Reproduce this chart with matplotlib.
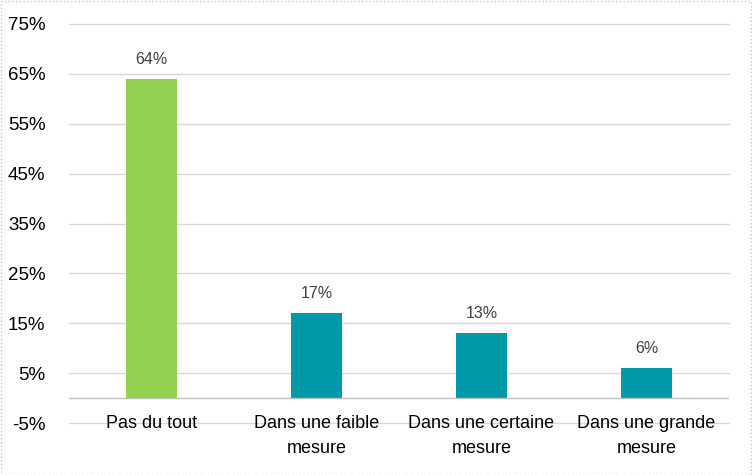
import matplotlib.pyplot as plt
import numpy as np

categories = ["Pas du tout", "Dans une faible\nmesure", "Dans une certaine\nmesure", "Dans une grande\nmesure"]
values = [64, 17, 13, 6]
colors = ["#92D050", "#0099A8", "#0099A8", "#0099A8"]
yticks = [-5, 5, 15, 25, 35, 45, 55, 65, 75]

plt.rcParams['font.family'] = ['Liberation Sans', 'DejaVu Sans']

fig = plt.figure(figsize=(7.52, 4.75), dpi=100)
ax = fig.add_axes([69 / 752, 52 / 475, 660 / 752, 399 / 475])

x = np.arange(len(categories))
ax.bar(x, values, width=0.315, color=colors, zorder=3)

# value labels above bars
for xi, v in zip(x, values):
    ax.text(xi, v + 2.4, f"{v}%", ha='center', va='bottom', fontsize=11.5, color='#404040')

# gridlines
for t in yticks:
    ax.axhline(t, color='#d9d9d9', lw=1, zorder=1, clip_on=False)
ax.axhline(0, color='#bfbfbf', lw=1, zorder=4)

ax.set_xlim(-0.5, 3.5)
ax.set_ylim(-5, 75)
ax.set_yticks(yticks)
ax.set_yticklabels([f"{t}%" for t in yticks], fontsize=13.5, color='#000000')
ax.tick_params(axis='y', length=0, pad=17)
ax.set_xticks([])

# category labels sit on the -5% line, like Excel does it
for xi, c in zip(x, categories):
    ax.text(xi, -3.4, c, ha='center', va='top', fontsize=13, color='#000000',
            linespacing=1.65)

for s in ax.spines.values():
    s.set_visible(False)

# light frame around the whole picture
fig.patches.append(plt.Rectangle((0.001, 0.001), 0.998, 0.997, transform=fig.transFigure,
                                 fill=False, edgecolor='#c8c8c8', lw=1, ls=':'))

fig.savefig("out.png", dpi=100)
